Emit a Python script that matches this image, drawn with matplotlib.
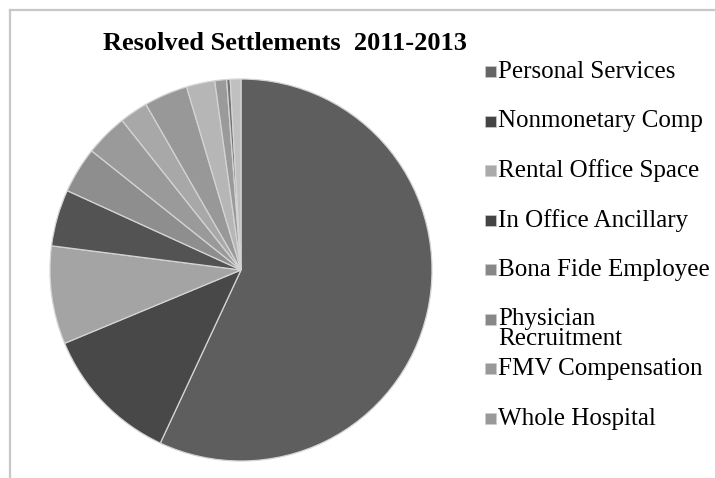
import matplotlib
matplotlib.use('Agg')
import matplotlib.pyplot as plt
from matplotlib.lines import Line2D
from matplotlib.patches import Rectangle

# values (share of settlements, %)
labels = ['Personal Services', 'Nonmonetary Comp', 'Rental Office Space',
          'In Office Ancillary', 'Bona Fide Employee', 'Physician\nRecruitment',
          'FMV Compensation', 'Whole Hospital', '', '', '', '']
values = [57.0, 11.8, 8.3, 4.8, 3.9, 3.6, 2.4, 3.7, 2.4, 1.0, 0.3, 0.9]
colors = ['#5e5e5e', '#484848', '#a4a4a4', '#535353', '#8e8e8e', '#9a9a9a',
          '#a8a8a8', '#989898', '#b6b6b6', '#9a9a9a', '#747474', '#c0c0c0']
legend_colors = ['#666666', '#444444', '#aaaaaa', '#444444', '#888888',
                 '#888888', '#999999', '#999999']
n_legend = 8

W, H = 715, 478
fig = plt.figure(figsize=(W / 100, H / 100), dpi=100)
plt.rcParams['font.family'] = ['Liberation Serif', 'DejaVu Serif']

ax = fig.add_axes([50 / W, (H - 270 - 191) / H, 382 / W, 382 / H])
ax.pie(values, colors=colors, startangle=90, counterclock=False,
       wedgeprops=dict(edgecolor='#d4d4d4', linewidth=0.9))
ax.set_xlim(-1, 1)
ax.set_ylim(-1, 1)
ax.set_aspect('equal')
ax.axis('off')

fig.text(285 / W, 1 - 44 / H, 'Resolved Settlements  2011-2013',
         ha='center', va='center', fontsize=19, fontweight='bold')

# legend drawn by hand: the wrapped label overlaps the next entry as in the original
y0, step = 72, 49.5
for i in range(n_legend):
    y = y0 + i * step
    fig.add_artist(Rectangle((485 / W, 1 - (y + 5) / H), 11 / W, 11 / H,
                             transform=fig.transFigure, facecolor=legend_colors[i],
                             edgecolor='#cccccc', linewidth=0.5))
    txt = labels[i]
    if '\n' in txt:
        fig.text(498 / W, 1 - (y - 12) / H, txt, ha='left', va='top',
                 fontsize=18, linespacing=0.9)
    else:
        fig.text(498 / W, 1 - y / H, txt, ha='left', va='center', fontsize=18)

# outer frame
frame = dict(color='#c8c8c8', linewidth=1.6, transform=fig.transFigure)
fig.add_artist(Line2D([10 / W, 1], [1 - 10 / H, 1 - 10 / H], **frame))
fig.add_artist(Line2D([10 / W, 10 / W], [1 - 10 / H, 0], **frame))

plt.savefig('out.png', dpi=100)
